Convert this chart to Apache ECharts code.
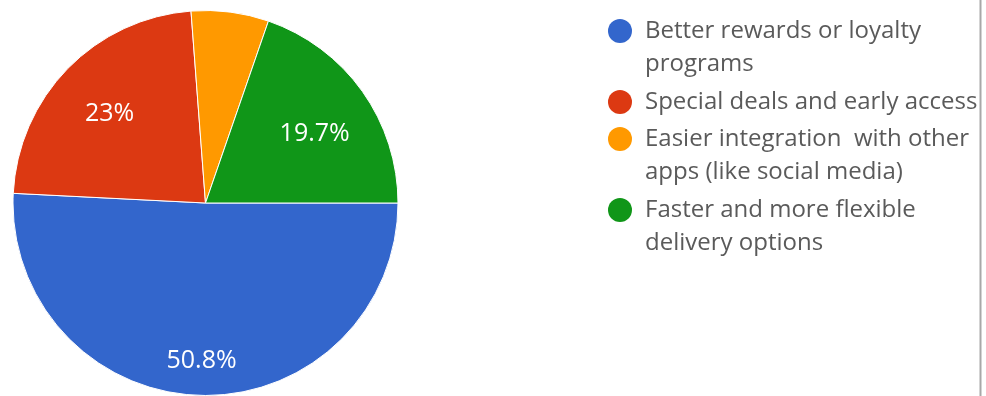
<!DOCTYPE html>
<html>
<head>
<meta charset="utf-8">
<title>Preferred improvements</title>
<script src="https://cdn.jsdelivr.net/npm/echarts@6/dist/echarts.min.js"></script>
<style>
  html, body { margin: 0; padding: 0; background: #ffffff; }
  #chart { width: 986px; height: 396px; }
</style>
</head>
<body>
<div id="chart"></div>
<script>
// Survey answers and their shares (percent)
const categories = [
  'Better rewards or loyalty programs',
  'Special deals and early access',
  'Easier integration with other apps (like social media)',
  'Faster and more flexible delivery options'
];
const shares = [50.8, 23, 6.5, 19.7];
const legendLines = [
  ['Better rewards or loyalty', 'programs'],
  ['Special deals and early access'],
  ['Easier integration  with other', 'apps (like social media)'],
  ['Faster and more flexible', 'delivery options']
];

const palette = ['#3366cc', '#dc3912', '#ff9900', '#109618'];
const FONT = '"Open Sans", "Noto Sans", sans-serif';

const CENTER = [205.5, 203];
const RADIUS = 192.5;

// Value labels sit on transparent rings laid over the pie, so each label lands
// at the mid radius of its ring: 0 -> outer ring, 1 -> inner ring, null -> no label
const labelRing = [1, 0, null, 0];
const ringInner = [69.5, 117.5];
// small per-slice vertical nudge of the value labels
const labelNudge = [[0, 0], [0, 4], [0, 0], [0, 9]];

function labelSeries(ringIdx) {
  return {
    type: 'pie',
    center: CENTER,
    radius: [ringInner[ringIdx], RADIUS],
    startAngle: 0,
    clockwise: true,
    silent: true,
    animation: false,
    itemStyle: { color: 'rgba(0,0,0,0)', borderWidth: 0 },
    emphasis: { disabled: true },
    labelLine: { show: false },
    label: {
      position: 'inside',
      color: '#ffffff',
      fontFamily: FONT,
      fontSize: 25,
      formatter: p => p.value + '%'
    },
    data: categories.map((name, i) => ({
      name: name,
      value: shares[i],
      label: { show: labelRing[i] === ringIdx, offset: labelNudge[i] }
    }))
  };
}

// One legend block per answer; wrapped entries get an empty leading line so the
// text block, which is centred on the icon, puts the icon beside the first line
const LINE_H = 33;
const firstLineY = [31, 102, 139, 210];
const legends = categories.map((name, i) => {
  const n = legendLines[i].length;
  const text = (n > 1 ? '\n' : '') + legendLines[i].join('\n');
  return {
    data: [name],
    orient: 'vertical',
    left: 608,
    top: firstLineY[i] - (2 * n - 1) * LINE_H / 2,
    padding: 0,
    icon: 'circle',
    itemWidth: 24,
    itemHeight: 24,
    selectedMode: false,
    itemStyle: { borderWidth: 0 },
    formatter: () => text,
    textStyle: {
      fontFamily: FONT,
      fontSize: 24,
      color: '#5a5a5a',
      lineHeight: LINE_H,
      padding: [0, 0, 0, 8]
    }
  };
});

const chart = echarts.init(document.getElementById('chart'), null, { renderer: 'canvas' });
chart.setOption({
  backgroundColor: '#ffffff',
  animation: false,
  color: palette,
  legend: legends,
  graphic: [{
    type: 'line',
    shape: { x1: 980.5, y1: 0, x2: 980.5, y2: 396 },
    style: { stroke: '#a8a8a8', lineWidth: 2 },
    silent: true
  }],
  series: [
    {
      type: 'pie',
      center: CENTER,
      radius: RADIUS,
      startAngle: 0,
      clockwise: true,
      animation: false,
      itemStyle: { borderColor: '#ffffff', borderWidth: 1 },
      emphasis: { disabled: true },
      label: { show: false },
      labelLine: { show: false },
      data: categories.map((name, i) => ({
        name: name,
        value: shares[i],
        itemStyle: { color: palette[i] }
      }))
    },
    labelSeries(0),
    labelSeries(1)
  ]
});
</script>
</body>
</html>
